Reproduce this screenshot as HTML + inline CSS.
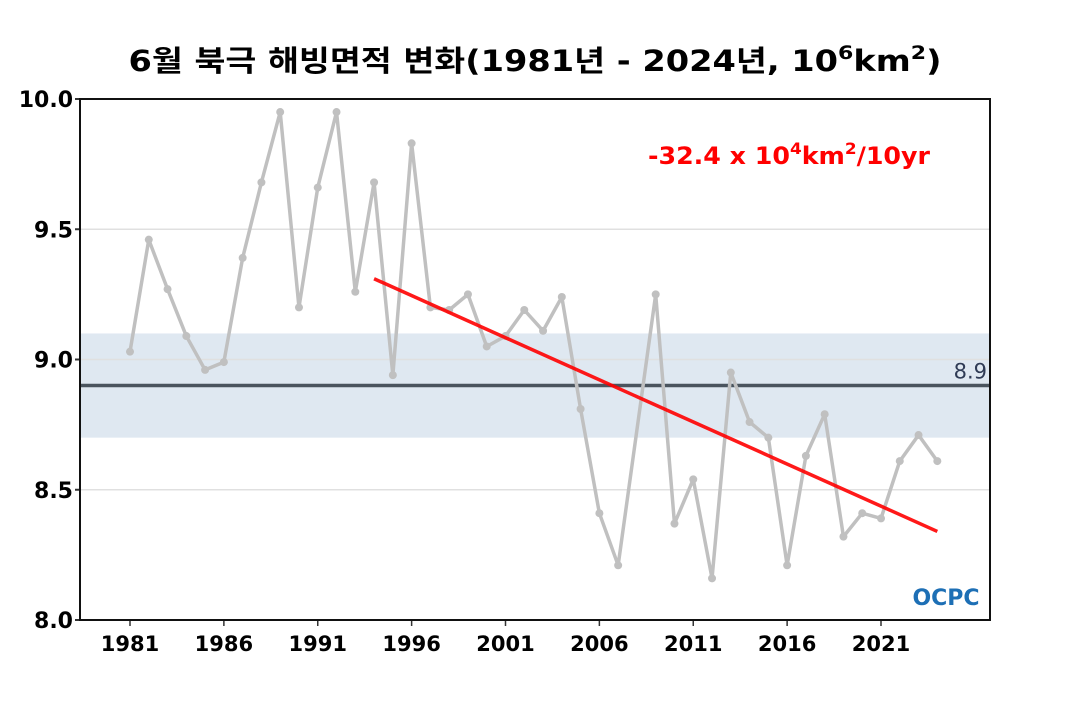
<!DOCTYPE html>
<html><head><meta charset="utf-8"><style>
body{margin:0;background:#fff;width:1070px;height:700px;overflow:hidden}
text{font-family:"DejaVu Sans","Noto Sans CJK KR",sans-serif}
</style></head><body>
<svg id="chart" width="1070" height="700">
<text x="535" y="71" text-anchor="middle" font-size="29" font-weight="bold" textLength="813" lengthAdjust="spacingAndGlyphs">6월 북극 해빙면적 변화(1981년 - 2024년, 10<tspan dy="-12" font-size="19">6</tspan><tspan dy="12">km</tspan><tspan dy="-12" font-size="19">2</tspan><tspan dy="12">)</tspan></text>
<g id="plot"></g>
<text x="789" y="164" text-anchor="middle" font-size="24" font-weight="bold" fill="#f00" textLength="282" lengthAdjust="spacingAndGlyphs">-32.4 x 10<tspan dy="-10" font-size="16">4</tspan><tspan dy="10">km</tspan><tspan dy="-10" font-size="16">2</tspan><tspan dy="10">/10yr</tspan></text>
<g><text x="946" y="605" text-anchor="middle" font-size="22" font-weight="bold" fill="#1d6fb5">OCPC</text></g>
</svg>
<script>
const years=[];for(let y=1981;y<=2024;y++)years.push(y);
const extent=[9.03,9.46,9.27,9.09,8.96,8.99,9.39,9.68,9.95,9.20,9.66,9.95,9.26,9.68,8.94,9.83,9.20,9.19,9.25,9.05,9.09,9.19,9.11,9.24,8.81,8.41,8.21,8.73,9.25,8.37,8.54,8.16,8.95,8.76,8.70,8.21,8.63,8.79,8.32,8.41,8.39,8.61,8.71,8.61];
const yTicks=[8.0,8.5,9.0,9.5,10.0];
const xTicks=[1981,1986,1991,1996,2001,2006,2011,2016,2021];
const climMean=[8.9];
const climBand=[8.7,9.1];
const trendYears=[1994,2024];
const trendValues=[9.31,8.34];
const NS='http://www.w3.org/2000/svg';
const L=80,R=990,T=99,B=620;
const x=v=>130+(v-1981)*(881-130)/40;
const y=v=>B-(v-8)*(B-T)/2;
const g=document.getElementById('plot');
function mk(t,a,p){const e=document.createElementNS(NS,t);for(const k in a)e.setAttribute(k,a[k]);(p||g).appendChild(e);return e;}
let e=mk('rect',{x:L,y:y(climBand[1]),width:R-L,height:y(climBand[0])-y(climBand[1]),fill:'#dfe8f1'});


yTicks.forEach(v=>{
 if(v>8&&v<10){let l=mk('line',{x1:L,x2:R,y1:y(v),y2:y(v),stroke:'#e0e0e0','stroke-width':1.5});
 
 }
 mk('line',{x1:L-5,x2:L,y1:y(v),y2:y(v),stroke:'#333','stroke-width':2});
 let t=mk('text',{x:L-7,y:y(v)+8,'text-anchor':'end','font-size':22,'font-weight':'bold'});t.textContent=v.toFixed(1);
 
 
});
xTicks.forEach(v=>{
 mk('line',{x1:x(v),x2:x(v),y1:B,y2:B+6,stroke:'#333','stroke-width':1.5});
 let t=mk('text',{x:x(v),y:B+31,'text-anchor':'middle','font-size':21,'font-weight':'bold'});t.textContent=v;
 
 
});
e=mk('line',{x1:L,x2:R,y1:y(climMean[0]),y2:y(climMean[0]),stroke:'#4a545e','stroke-width':3.5});


e=mk('text',{x:R-3,y:y(climMean[0])-7,'text-anchor':'end','font-size':21,fill:'#2f3b55'});e.textContent=climMean[0].toFixed(1);


e=mk('polyline',{points:years.map((yr,i)=>x(yr)+','+y(extent[i])).join(' '),fill:'none',stroke:'#c0c0c0','stroke-width':3.5,'stroke-linejoin':'round'});


years.forEach((yr,i)=>{if(yr===2008)return;let c=mk('circle',{cx:x(yr),cy:y(extent[i]),r:4,fill:'#c0c0c0'});
 
 });
e=mk('line',{x1:x(trendYears[0]),y1:y(trendValues[0]),x2:x(trendYears[1]),y2:y(trendValues[1]),stroke:'#f00','stroke-width':3.5,'stroke-opacity':0.9});


e=mk('rect',{x:L,y:T,width:R-L,height:B-T,fill:'none',stroke:'#111','stroke-width':2});


</script>
</body></html>
